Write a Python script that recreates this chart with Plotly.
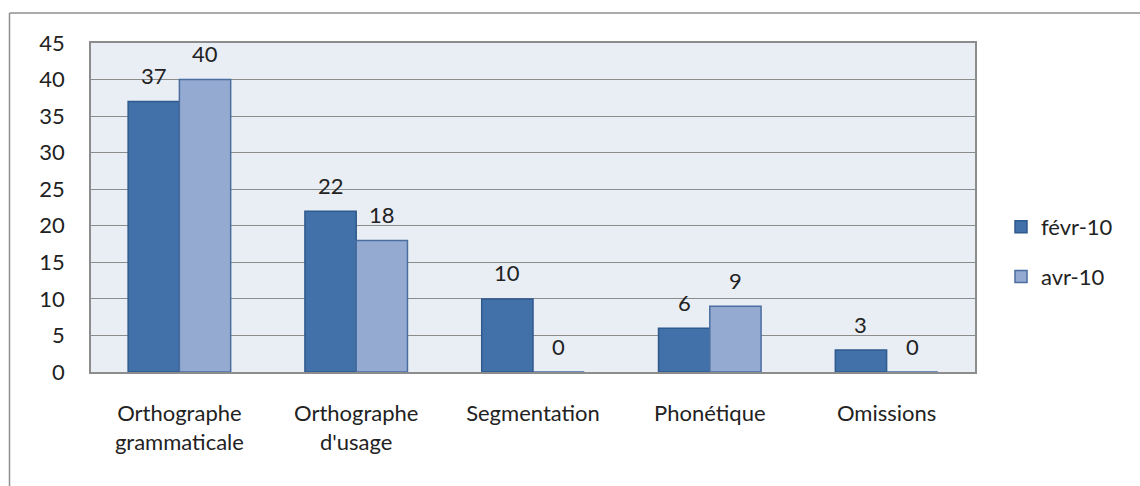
import plotly.graph_objects as go

categories = ["Orthographe<br>grammaticale", "Orthographe<br>d'usage", "Segmentation", "Phonétique", "Omissions"]
fevr = [37, 22, 10, 6, 3]
avr = [40, 18, 0, 9, 0]
series_names = ["févr-10", "avr-10"]
y_ticks = [0, 5, 10, 15, 20, 25, 30, 35, 40, 45]

FONT = "Lato, 'Liberation Sans', sans-serif"
FS = 22
L, R, T, B = 91, 165, 43, 114
W, H = 1140, 486
pw, ph = W - L - R, H - T - B
BARGAP = 0.42

fig = go.Figure()
fig.add_trace(go.Bar(x=categories, y=fevr, name=series_names[0], legendgroup="a",
                     marker=dict(color="#4270A8", line=dict(color="#2F5A8E", width=1.5))))
fig.add_trace(go.Bar(x=categories, y=avr, name=series_names[1], legendgroup="b",
                     marker=dict(color="#94AAD0", line=dict(color="#4A6EA0", width=1.5))))

# data labels placed through the axes (value of each bar), shifted to bar centre
cat_w = pw / len(categories)
bar_w = cat_w * (1 - BARGAP) / 2
annotations = []
for k, vals in enumerate([fevr, avr]):
    shift = (k - 0.5) * bar_w
    for c, v in zip(categories, vals):
        annotations.append(dict(x=c, y=v, xref="x", yref="y", text=str(v), showarrow=False,
                                xshift=shift, yshift=26, yanchor="middle",
                                font=dict(size=FS, color="#222", family=FONT)))

def px_x(p):
    return (p - L) / pw

def px_y(p):
    return (H - B - p) / ph

shapes = [
    dict(type="line", xref="paper", yref="paper", x0=px_x(9.5), x1=px_x(W + 5), y0=px_y(13), y1=px_y(13),
         line=dict(color="#8f8f8f", width=1.5)),
    dict(type="line", xref="paper", yref="paper", x0=px_x(9.5), x1=px_x(9.5), y0=px_y(13), y1=px_y(H + 5),
         line=dict(color="#8f8f8f", width=1.5)),
]

fig.update_layout(
    width=W, height=H,
    margin=dict(l=L, r=R, t=T, b=B, autoexpand=False),
    paper_bgcolor="white", plot_bgcolor="#E9EDF4",
    barmode="group", bargap=BARGAP, bargroupgap=0,
    font=dict(family=FONT, size=FS, color="#222"),
    showlegend=True,
    legend=dict(x=px_x(1001), y=px_y(252), xanchor="left", yanchor="middle",
                font=dict(size=FS, color="#222"), traceorder="grouped", tracegroupgap=18,
                itemwidth=30, bgcolor="rgba(0,0,0,0)"),
    shapes=shapes,
    annotations=annotations,
    xaxis=dict(showgrid=False, showline=True, linecolor="#8c8c8c", linewidth=1.5, mirror=True,
               ticks="", tickfont=dict(size=FS, color="#222"), ticklabelstandoff=21),
    yaxis=dict(range=[0, 45], tickvals=y_ticks, showgrid=True, gridcolor="#8c8c8c", gridwidth=1.2,
               showline=True, linecolor="#8c8c8c", linewidth=1.5, mirror=True,
               ticks="", tickfont=dict(size=FS, color="#222"), ticklabelstandoff=20, zeroline=False),
)

fig.write_html("out.html", config={"displayModeBar": False},
               post_script="document.body.style.margin='0';document.body.style.overflow='hidden';")
